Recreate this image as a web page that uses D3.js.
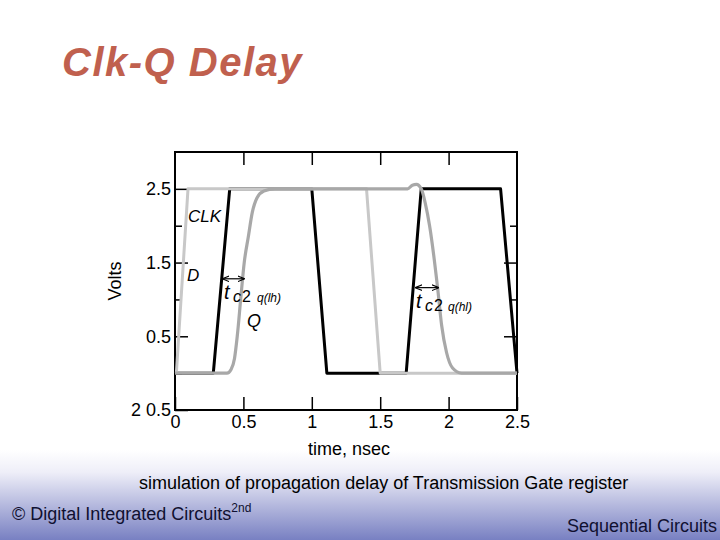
<!DOCTYPE html>
<html>
<head>
<meta charset="utf-8">
<script src="https://cdn.jsdelivr.net/npm/d3@7"></script>
<style>
  body { margin:0; background:#fff; }
  svg text { font-family: "Liberation Sans", Arial, sans-serif; }
</style>
</head>
<body>
<div id="canvas"></div>
<script>
// data
var timeTicks = [0, 0.5, 1, 1.5, 2, 2.5];
var voltTicks = [-0.5, 0.5, 1.5, 2.5];
var voltTickLabels = ["2 0.5", "0.5", "1.5", "2.5"];
var voltMinor = [0, 1, 2];

// CLK (black)
var clkT = [0, 0.28, 0.40, 1.0, 1.11, 1.69, 1.80, 2.38, 2.5];
var clkV = [0, 0, 2.5, 2.5, 0, 0, 2.5, 2.5, 0];
// D (light grey)
var dT = [0.01, 0.095, 1.40, 1.50, 2.5];
var dV = [0, 2.5, 2.5, 0, 0];
// Q (mid grey)
var qT = [0, 0.38, 0.41, 0.435, 0.455, 0.48, 0.506, 0.536, 0.565, 0.60, 0.65, 0.73,
          1.70, 1.735, 1.765, 1.80, 1.83, 1.861, 1.92, 1.949, 1.985, 2.029, 2.095, 2.5];
var qV = [0, 0, 0.05, 0.2, 0.5, 1.0, 1.5, 1.85, 2.18, 2.38, 2.47, 2.5,
          2.5, 2.55, 2.56, 2.5, 2.3, 2.0, 1.15, 0.65, 0.28, 0.07, 0, 0];

var svg = d3.select('#canvas').append('svg')
    .attr('width', 720).attr('height', 540);

// footer gradient
var defs = svg.append('defs');
var grad = defs.append('linearGradient').attr('id', 'foot')
    .attr('x1', 0).attr('y1', 0).attr('x2', 0).attr('y2', 1);
grad.append('stop').attr('offset', '0%').attr('stop-color', '#ffffff');
grad.append('stop').attr('offset', '25%').attr('stop-color', '#eeeef8');
grad.append('stop').attr('offset', '100%').attr('stop-color', '#7880c2');
svg.append('rect').attr('x', 0).attr('y', 450).attr('width', 720).attr('height', 90)
    .attr('fill', 'url(#foot)');

// title
svg.append('text').attr('x', 62).attr('y', 76)
    .attr('font-size', 40).attr('font-weight', 'bold').attr('font-style', 'italic')
    .attr('letter-spacing', 1.5).attr('fill', '#c0604e')
    .text('Clk-Q Delay');

// scales
var x = d3.scaleLinear().domain([0, 2.5]).range([175, 517]);
var y = d3.scaleLinear().domain([-0.5, 3]).range([410, 152]);

var plot = svg.append('g');

// axes with inward ticks
function styleAxis(g) {
  g.select('.domain').remove();
  g.selectAll('line').attr('stroke', '#000').attr('stroke-width', 1.5);
  g.selectAll('text').attr('fill', '#000').attr('font-size', 18)
    .attr('font-family', '"Liberation Sans", Arial, sans-serif');
}

plot.append('g').attr('transform', 'translate(0,410)')
  .call(d3.axisBottom(x).tickValues(timeTicks).tickSize(-13).tickPadding(5)
        .tickFormat(function(d){ return d3.format('')(d); }))
  .call(styleAxis);
plot.append('g').attr('transform', 'translate(0,152)')
  .call(d3.axisTop(x).tickValues(timeTicks.slice(1, 5)).tickSize(-13).tickFormat(''))
  .call(styleAxis);
plot.append('g').attr('transform', 'translate(175,0)')
  .call(d3.axisLeft(y).tickValues(voltTicks).tickSize(-13).tickPadding(4)
        .tickFormat(function(d, i){ return voltTickLabels[i]; }))
  .call(styleAxis);
plot.append('g').attr('transform', 'translate(175,0)')
  .call(d3.axisLeft(y).tickValues(voltMinor).tickSize(-7).tickFormat(''))
  .call(styleAxis);
plot.append('g').attr('transform', 'translate(517,0)')
  .call(d3.axisRight(y).tickValues(voltTicks.slice(1, 3)).tickSize(-13).tickFormat(''))
  .call(styleAxis);
plot.append('g').attr('transform', 'translate(517,0)')
  .call(d3.axisRight(y).tickValues(voltMinor.slice(1)).tickSize(-7).tickFormat(''))
  .call(styleAxis);

// frame
plot.append('rect').attr('x', x(0)).attr('y', y(3))
    .attr('width', x(2.5) - x(0)).attr('height', y(-0.5) - y(3))
    .attr('fill', 'none').attr('stroke', '#000').attr('stroke-width', 2);

// signals
function zipPts(t, v) { return t.map(function(d, i){ return [d, v[i]]; }); }
var lineStraight = d3.line().x(function(d){ return x(d[0]); }).y(function(d){ return y(d[1]); });
var lineSmooth = d3.line().curve(d3.curveMonotoneX)
    .x(function(d){ return x(d[0]); }).y(function(d){ return y(d[1]); });

plot.append('path').datum(zipPts(clkT, clkV)).attr('d', lineStraight)
    .attr('fill', 'none').attr('stroke', '#000').attr('stroke-width', 3)
    .attr('stroke-linejoin', 'round');
plot.append('path').datum(zipPts(dT, dV)).attr('d', lineStraight)
    .attr('fill', 'none').attr('stroke', '#c8c8c8').attr('stroke-width', 3)
    .attr('stroke-linejoin', 'round');
plot.append('path').datum(zipPts(qT, qV)).attr('d', lineSmooth)
    .attr('fill', 'none').attr('stroke', '#a8a8a8').attr('stroke-width', 3.2)
    .attr('stroke-linejoin', 'round');

// delay arrows
defs.append('marker').attr('id', 'ah').attr('viewBox', '0 0 10 10')
    .attr('refX', 9).attr('refY', 5).attr('markerWidth', 6).attr('markerHeight', 6)
    .attr('orient', 'auto-start-reverse')
  .append('path').attr('d', 'M0,1 L10,5 L0,9').attr('fill', 'none')
    .attr('stroke', '#000').attr('stroke-width', 1.5);
var arrows = [[0.35, 0.505, 1.28], [1.76, 1.925, 1.16]];
arrows.forEach(function(a){
  plot.append('line').attr('x1', x(a[0])).attr('x2', x(a[1]))
    .attr('y1', y(a[2])).attr('y2', y(a[2]))
    .attr('stroke', '#000').attr('stroke-width', 1.2)
    .attr('marker-start', 'url(#ah)').attr('marker-end', 'url(#ah)');
});

// labels
function lab(tx, px, py, size, italic) {
  return plot.append('text').attr('x', px).attr('y', py).attr('font-size', size)
    .attr('font-style', italic ? 'italic' : 'normal').attr('fill', '#000').text(tx);
}
lab('CLK', 188, 222, 17, true);
lab('D', 187, 281, 17, true);
lab('Q', 247, 327, 18, true);

lab('t', 224, 299, 20, true);
lab('c', 233, 302, 16, true);
lab('2', 242, 302, 16, false);
lab('q(lh)', 257, 302, 12, true);

lab('t', 416, 308, 20, true);
lab('c', 425, 311, 16, true);
lab('2', 434, 311, 16, false);
lab('q(hl)', 448, 311, 12, true);

// axis titles
svg.append('text').attr('transform', 'translate(121,281) rotate(-90)')
    .attr('text-anchor', 'middle').attr('font-size', 18).text('Volts');
svg.append('text').attr('x', 349).attr('y', 455)
    .attr('text-anchor', 'middle').attr('font-size', 18).text('time, nsec');

// caption and footer
svg.append('text').attr('x', 139).attr('y', 489).attr('font-size', 18)
    .text('simulation of propagation delay of Transmission Gate register');
var foot = svg.append('text').attr('x', 12).attr('y', 520).attr('font-size', 18)
    .attr('fill', '#101030');
foot.append('tspan').text('© Digital Integrated Circuits');
foot.append('tspan').attr('font-size', 12).attr('dy', -8).text('2nd');
svg.append('text').attr('x', 717).attr('y', 532).attr('text-anchor', 'end')
    .attr('font-size', 18).attr('fill', '#101030').text('Sequential Circuits');
</script>
</body>
</html>
